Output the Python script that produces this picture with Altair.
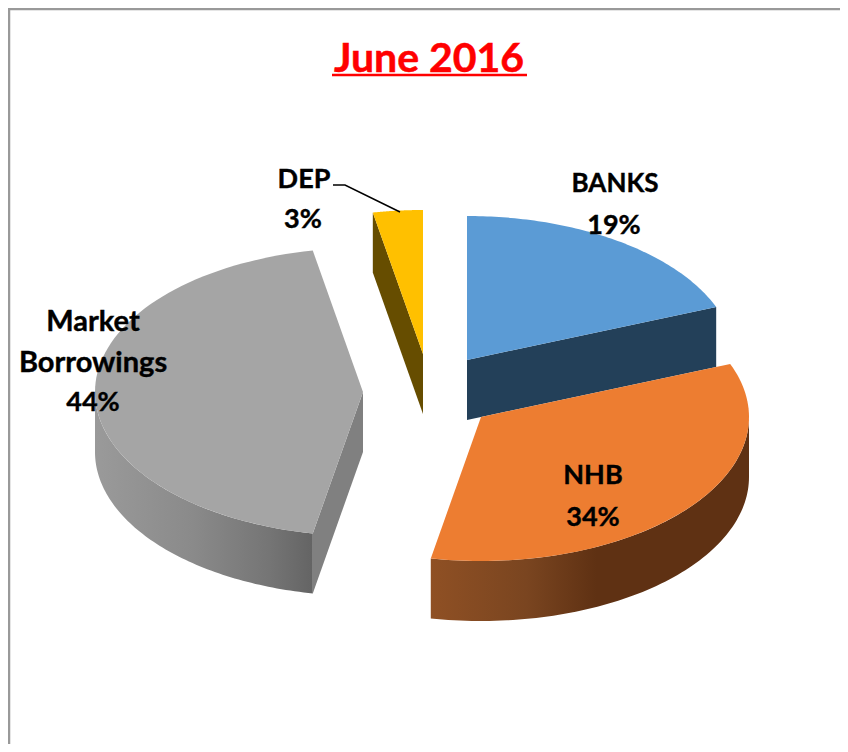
import math
import altair as alt

# ---- values ----
categories = ["BANKS", "NHB", "Market Borrowings", "DEP"]
shares = [19, 34, 44, 3]
title_text = "June 2016"
label_lines = [["BANKS", "19%"], ["NHB", "34%"], ["Market", "Borrowings", "44%"], ["DEP", "3%"]]

# ---- layout / style, kept apart from the values ----
W, H = 832, 736
RX, RY, DEPTH = 268, 144, 60
apex = [(467, 360), (481, 417), (363, 392), (423, 354)]
top_colors = ["#5B9BD5", "#ED7D31", "#A5A5A5", "#FFC000"]
cut_colors = ["#234059", None, "#808080", "#664D00"]
label_pos = [
    [(615, 184), (614, 226)],
    [(593, 476), (593, 518)],
    [(93, 322), (93, 363), (93, 403)],
    [(304, 180), (303, 220)],
]
label_size = [[26, 27], [27, 27], [29, 29, 27], [27, 27]]
LINE_FONT = "Lato"


def ell(c, t_deg, dy=0):
    t = math.radians(t_deg)
    return [c[0] + RX * math.sin(t), c[1] - RY * math.cos(t) + dy]


def arc(c, a, b, dy=0, n=80):
    return [ell(c, a + (b - a) * i / n, dy) for i in range(n + 1)]


def poly(pts):
    return {"type": "Feature", "properties": {},
            "geometry": {"type": "Polygon", "coordinates": [pts + [pts[0]]]}}


def path(pts):
    return {"type": "Feature", "properties": {},
            "geometry": {"type": "LineString", "coordinates": pts}}


def shape(feature, **mark):
    return alt.Chart(alt.InlineData(values={"type": "FeatureCollection", "features": [feature]},
                                    format=alt.DataFormat(property="features", type="json"))
                     ).mark_geoshape(**mark).project(type="identity", scale=1, translate=[-8, -8])


def cut_face(c, e, color):
    return shape(poly([list(c), e, [e[0], e[1] + DEPTH], [c[0], c[1] + DEPTH]]), fill=color, stroke=None)


# slice angles, clockwise from 12 o'clock
angles = []
acc = 0
for s in shares:
    angles.append((acc * 3.6, (acc + s) * 3.6))
    acc += s

layers = []
# frame
layers.append(shape(path([[9, 752], [9, 9], [840, 9]]), filled=False, stroke="#999999", strokeWidth=2.5))

nhb_grad = alt.Gradient(gradient="linear", x1=0, x2=1, y1=0, y2=0, stops=[
    alt.GradientStop(color="#8F5024", offset=0),
    alt.GradientStop(color="#7A4520", offset=0.3),
    alt.GradientStop(color="#5F3113", offset=0.52),
    alt.GradientStop(color="#5F3113", offset=1)])
mkt_grad = alt.Gradient(gradient="linear", x1=0, x2=1, y1=0, y2=0, stops=[
    alt.GradientStop(color="#9A9A9A", offset=0),
    alt.GradientStop(color="#8A8A8A", offset=0.45),
    alt.GradientStop(color="#757575", offset=0.8),
    alt.GradientStop(color="#646464", offset=1)])

for i in [0, 3, 2, 1]:
    a, b = angles[i]
    c = apex[i]
    # straight cut face
    if i == 0:
        layers.append(cut_face(c, ell(c, b), cut_colors[i]))
    if i in (2, 3):
        layers.append(cut_face(c, ell(c, a), cut_colors[i]))
    # curved outer wall
    if i == 1:
        layers.append(shape(poly(arc(c, 90, b) + arc(c, b, 90, DEPTH)), fill=nhb_grad))
    if i == 2:
        layers.append(shape(poly(arc(c, a, 270) + arc(c, 270, a, DEPTH)), fill=mkt_grad))
    # top face
    layers.append(shape(poly([list(c)] + arc(c, a, b)), fill=top_colors[i]))

# leader for DEP
layers.append(shape(path([[333, 185], [345, 185], [400, 212]]), filled=False, stroke="#000000", strokeWidth=1.5))
# title underline
layers.append(shape(path([[332, 75], [527, 75]]), filled=False, stroke="#FF0000", strokeWidth=2.5))

x_scale = alt.Scale(domain=[8, 840], range=[0, W])
y_scale = alt.Scale(domain=[8, 744], range=[0, H])
rows = []
for lines, pos, sizes in zip(label_lines, label_pos, label_size):
    for t, (px, py), fs in zip(lines, pos, sizes):
        rows.append({"t": t, "px": px, "py": py, "fs": fs})
labels = alt.Chart(alt.Data(values=rows)).mark_text(
    font=LINE_FONT, fontWeight="bold", color="#000000", baseline="middle", align="center",
    stroke="#000000", strokeWidth=0.4
).encode(x=alt.X("px:Q", scale=x_scale, axis=None), y=alt.Y("py:Q", scale=y_scale, axis=None), text="t:N",
         size=alt.Size("fs:Q", scale=None, legend=None))
title = alt.Chart(alt.Data(values=[{"t": title_text, "px": 429, "py": 60}])).mark_text(
    font=LINE_FONT, fontWeight="bold", fontSize=41, color="#FF0000", baseline="middle", align="center",
    stroke="#FF0000", strokeWidth=0.5
).encode(x=alt.X("px:Q", scale=x_scale, axis=None), y=alt.Y("py:Q", scale=y_scale, axis=None), text="t:N")

chart = alt.layer(*layers, labels, title).properties(
    width=W, height=H, padding=0, autosize=alt.AutoSizeParams(type="none")
).configure_view(stroke=None)
chart.save("out.html", embed_options={"renderer": "svg", "actions": False})
